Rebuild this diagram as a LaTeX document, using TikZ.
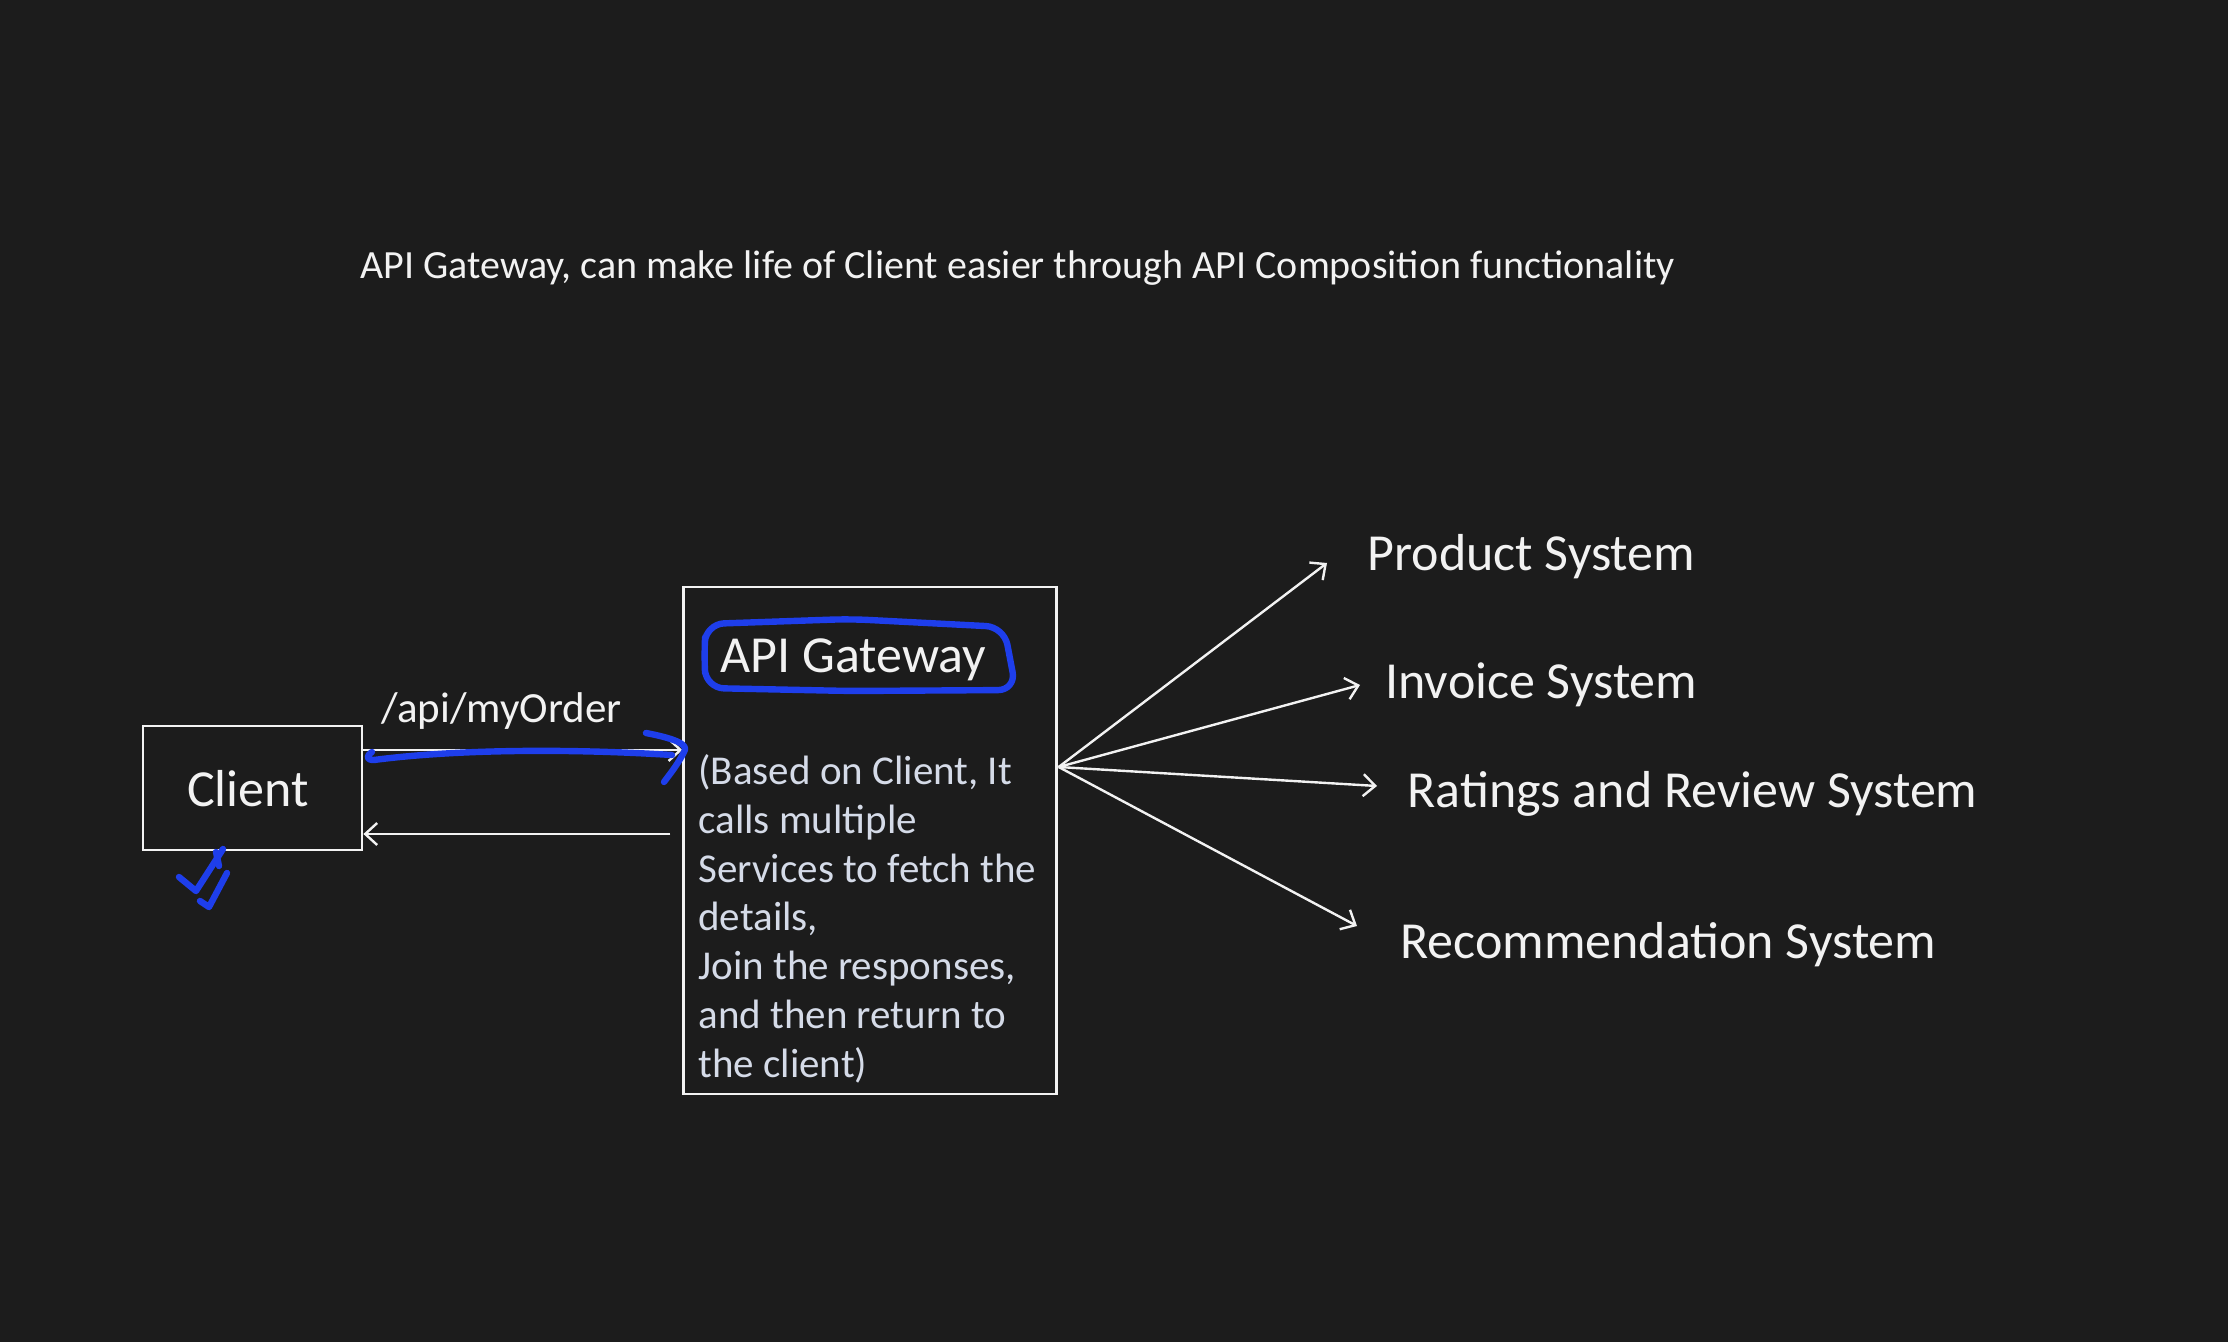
\documentclass[tikz,border=0pt]{standalone}
\usepackage{fontspec}
\setmainfont{Carlito}
\usetikzlibrary{arrows.meta}
\definecolor{bg}{HTML}{1C1C1C}
\definecolor{fg}{HTML}{F2F2F2}
\definecolor{body}{HTML}{D5DBE8}
\definecolor{pen}{RGB}{30,62,235}
\tikzset{
  boxnode/.style={draw=fg, line width=1.4pt, inner sep=0pt},
  lbl/.style={text=fg, inner sep=0pt, anchor=base west},
  conn/.style={draw=fg, line width=1.2pt, -{Straight Barb[length=6pt,width=11pt,line width=1.2pt]}},
  ink/.style={draw=pen, line width=3.2pt, line cap=round, line join=round},
}
\begin{document}
\begin{tikzpicture}[x=0.5pt,y=-0.5pt]
\fill[bg] (0,0) rectangle (2228,1342);
\useasboundingbox (0,0) rectangle (2228,1342);

% title
\node[lbl, font=\fontsize{20}{24}\selectfont] (title) at (360,279)
  {API Gateway, can make life of Client easier through API Composition functionality};

% client
\node[boxnode, minimum width=109.5pt, minimum height=62pt] (client) at (252.5,788) {};
\node[text=fg, inner sep=0pt, font=\fontsize{26}{30}\selectfont, anchor=base] (clienttxt) at (248,806) {Client};

% gateway
\node[boxnode, minimum width=186.25pt, minimum height=253.5pt] (gw) at (870,840.5) {};
\node[lbl, font=\fontsize{26}{30}\selectfont] (gwtitle) at (720,672) {API Gateway};
\node[text=body, inner sep=0pt, anchor=base west, align=left,
      font=\fontsize{20.5}{24.35}\selectfont] (gwbody) at (698,1077)
  {(Based on Client, It\\calls multiple\\Services to fetch the\\details,\\Join the responses,\\and then return to\\the client)};

% request label
\node[lbl, font=\fontsize{21.5}{25}\selectfont] (path) at (381,722) {/api/myOrder};

% request / response arrows
\draw[conn] ([yshift=19pt]client.east) -- ([yshift=19pt]client.east -| gw.west);
\draw[conn] ([yshift=-23pt,xshift=-6pt]client.east -| gw.west) -- ([yshift=-23pt]client.east);

% systems
\node[lbl, font=\fontsize{26}{30}\selectfont] (prod) at (1367,570) {Product System};
\node[lbl, font=\fontsize{26}{30}\selectfont] (inv) at (1385,698) {Invoice System};
\node[lbl, font=\fontsize{26}{30}\selectfont] (rate) at (1407,807) {Ratings and Review System};
\node[lbl, font=\fontsize{26}{30}\selectfont] (reco) at (1400,958) {Recommendation System};

\coordinate (hub) at ([xshift=0.5pt,yshift=36.75pt]gw.east);
\coordinate (eprod) at (1327,563);
\coordinate (einv) at (1360,685);
\coordinate (erate) at (1377,786);
\coordinate (ereco) at (1357,926);
\draw[conn] (hub) -- (eprod);
\draw[conn] (hub) -- (einv);
\draw[conn] (hub) -- (erate);
\draw[conn] (hub) -- (ereco);

% blue ink annotations
\draw[ink, rounded corners=9pt] (704,655) -- (706,624) -- (850,619) -- (1004,627) -- (1016,690) -- (850,691) -- (706,688) -- cycle;
\draw[ink] (372,752) .. controls (366,756) and (366,760) .. (374,760)
  .. controls (450,750) and (560,748) .. (672,755);
\draw[ink] (646,733) .. controls (672,738) and (690,744) .. (684,752)
  .. controls (678,764) and (670,774) .. (664,782);
\draw[ink] (179,877) -- (196,891) -- (223,849);
\draw[ink] (216,852) -- (219,866);
\draw[ink] (200,901) -- (209,907) -- (227,873);
\end{tikzpicture}
\end{document}
